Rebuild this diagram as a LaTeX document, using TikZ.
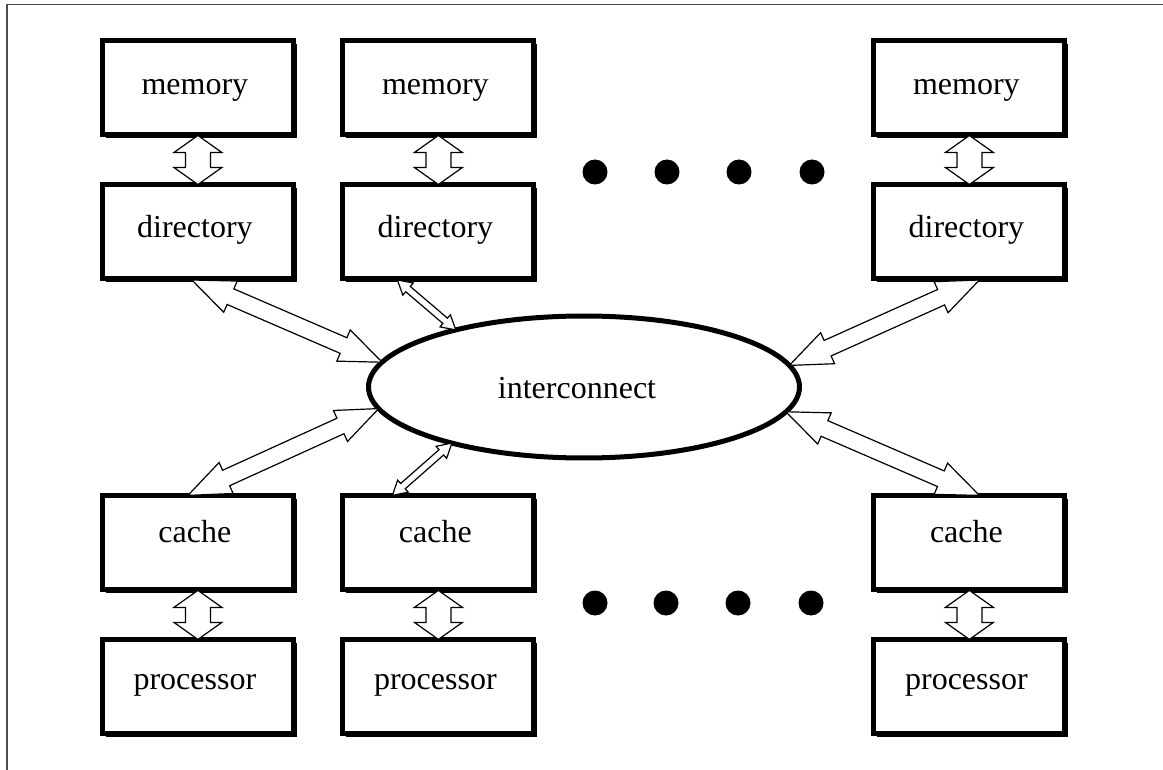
\documentclass[tikz,border=0pt]{standalone}
\usepackage{fontspec}
\setmainfont{Liberation Serif}
\usetikzlibrary{calc,shapes.geometric,shadows}
\newcommand\bodyfont{\fontsize{32}{37}\selectfont}
\newcommand\dblarr[6]{%
  \coordinate (#1h1) at ($(#2)!#4pt!(#3)$);
  \coordinate (#1h2) at ($(#3)!#4pt!(#2)$);
  \draw[dblar] (#2) -- ($(#1h1)!#5pt!90:(#3)$) -- ($(#1h1)!#6pt!90:(#3)$)
    -- ($(#1h2)!#6pt!-90:(#2)$) -- ($(#1h2)!#5pt!-90:(#2)$) -- (#3)
    -- ($(#1h2)!#5pt!90:(#2)$) -- ($(#1h2)!#6pt!90:(#2)$)
    -- ($(#1h1)!#6pt!-90:(#3)$) -- ($(#1h1)!#5pt!-90:(#3)$) -- cycle;
}
\tikzset{
  blk/.style={draw, line width=5pt, fill=white, minimum width=191pt,
    minimum height=94pt, inner sep=0pt, outer sep=0pt, font=\bodyfont, text depth=10pt,
    execute at end node={\hspace*{6pt}},
    drop shadow={shadow xshift=3.5pt, shadow yshift=-3.5pt, opacity=1, fill=black}},
  memrow/.style={text height=25pt},
  dirrow/.style={text height=23pt},
  cacherow/.style={text height=11pt},
  procrow/.style={text height=17pt},
  dblar/.style={draw=black, fill=white, line width=1.2pt, line join=miter},
  dotc/.style={circle, fill=black, minimum size=25pt, inner sep=0pt},
  frameline/.style={draw=black!70, line width=1.3pt},
}
\begin{document}
\begin{tikzpicture}[x=1pt,y=-1pt]
\useasboundingbox (0,0) rectangle (1163,770);
\coordinate (fbl) at (7,770);
\coordinate (ftl) at (7,4.5);
\coordinate (ftr) at (1163,4.5);
\draw[frameline] (fbl) -- (ftl) -- (ftr);

% boxes
\node[blk,memrow] (mem1) at (197.9,87.5) {memory};
\node[blk,memrow] (mem2) at (438.4,87.5) {memory};
\node[blk,memrow] (mem3) at (969.4,87.5) {memory};
\node[blk,dirrow] (dir1) at (197.9,231.5) {directory};
\node[blk,dirrow] (dir2) at (438.4,231.5) {directory};
\node[blk,dirrow] (dir3) at (969.4,231.5) {directory};
\node[blk,cacherow] (cac1) at (197.9,542.4) {cache};
\node[blk,cacherow] (cac2) at (438.4,542.4) {cache};
\node[blk,cacherow] (cac3) at (969.4,542.4) {cache};
\node[blk,procrow] (pro1) at (197.9,686.4) {processor};
\node[blk,procrow] (pro2) at (438.4,686.4) {processor};
\node[blk,procrow] (pro3) at (969.4,686.4) {processor};

% interconnect
\node[ellipse, draw, line width=5pt, fill=white, minimum width=431pt, minimum height=142pt,
  inner sep=0pt, outer sep=0pt, font=\bodyfont, text height=24pt, text depth=0pt] (ic) at (584,387)
  {interconnect\hspace*{14pt}};

% dots
\node[dotc] (dt1) at (595,172) {};
\node[dotc] (dt2) at (667,172) {};
\node[dotc] (dt3) at (739,172) {};
\node[dotc] (dt4) at (812,172) {};
\node[dotc] (db1) at (595,603) {};
\node[dotc] (db2) at (666,603) {};
\node[dotc] (db3) at (738,603) {};
\node[dotc] (db4) at (811,603) {};

% vertical double arrows
\coordinate (m1b) at ($(mem1.south)+(0,1)$);
\coordinate (m2b) at ($(mem2.south)+(0,1)$);
\coordinate (m3b) at ($(mem3.south)+(0,1)$);
\coordinate (c1b) at ($(cac1.south)+(0,1)$);
\coordinate (c2b) at ($(cac2.south)+(0,1)$);
\coordinate (c3b) at ($(cac3.south)+(0,1)$);
\dblarr{va}{m1b}{dir1.north}{17}{24}{12.5}
\dblarr{vb}{m2b}{dir2.north}{17}{24}{12.5}
\dblarr{vc}{m3b}{dir3.north}{17}{24}{12.5}
\dblarr{vd}{c1b}{pro1.north}{17}{24}{12.5}
\dblarr{ve}{c2b}{pro2.north}{17}{24}{12.5}
\dblarr{vf}{c3b}{pro3.north}{17}{24}{12.5}

% diagonal double arrows
\coordinate (d1s) at ($(dir1.south)+(-6,1.5)$);
\coordinate (d2s) at ($(dir2.south)+(-41,1.5)$);
\coordinate (d3s) at ($(dir3.south)+(10,1.5)$);
\coordinate (k1s) at ($(cac1.north)+(-10,0)$);
\coordinate (k2s) at ($(cac2.north)+(-46,0)$);
\coordinate (k3s) at ($(cac3.north)+(10,0)$);
\dblarr{da}{d1s}{ic.173.4}{42}{17}{8.5}
\dblarr{db}{d2s}{ic.156.5}{14}{8}{3.5}
\dblarr{dc}{d3s}{ic.6.6}{42}{17}{8.5}
\dblarr{dd}{k1s}{ic.186.8}{42}{17}{8.5}
\dblarr{de}{k2s}{ic.203.8}{14}{8}{3.5}
\dblarr{df}{k3s}{ic.353.2}{42}{17}{8.5}
\end{tikzpicture}
\end{document}
